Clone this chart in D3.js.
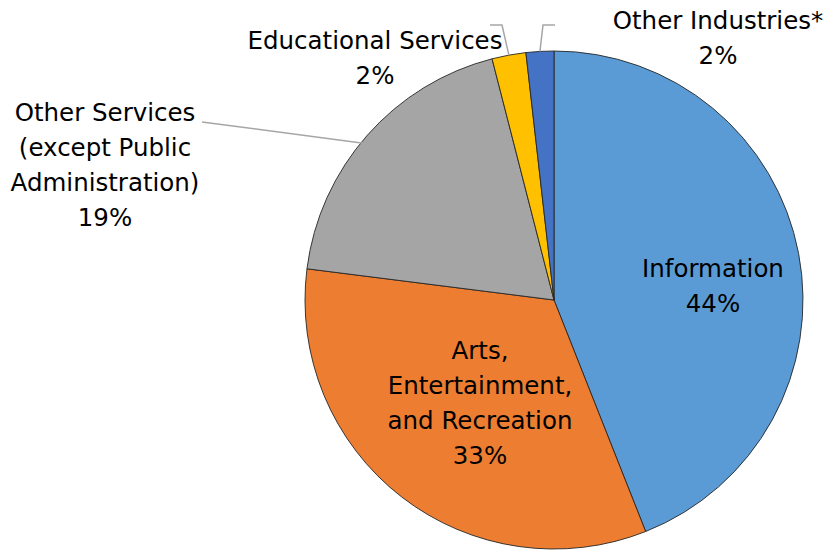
<!DOCTYPE html>
<html>
<head>
<meta charset="utf-8">
<script src="https://cdn.jsdelivr.net/npm/d3@7"></script>
<style>
	body { margin: 0; background: #fff; }
	text { font-family: "DejaVu Sans", sans-serif; font-size: 24.5px; fill: #000; }
</style>
</head>
<body>
<div id="chart"></div>
<script>

var categories = ["Information", "Arts, Entertainment, and Recreation", "Other Services (except Public Administration)", "Educational Services", "Other Industries*"];
var shares = [44, 33, 19, 2.2, 1.8];
var pctLabels = ["44%", "33%", "19%", "2%", "2%"];
var colors = ["#5B9BD5", "#ED7D31", "#A5A5A5", "#FFC000", "#4472C4"];

// label lines as they wrap in the original
var labelLines = [
	["Information", "44%"],
	["Arts,", "Entertainment,", "and Recreation", "33%"],
	["Other Services", "(except Public", "Administration)", "19%"],
	["Educational Services", "2%"],
	["Other Industries*", "2%"]
];

var width = 825,
	height = 550;

var cx = 554, cy = 300, radius = 249;
var lineGap = 35;

// where each label block sits (centre x, first-line y)
var labelPos = [
	{x: 713, y: 268},
	{x: 480, y: 350},
	{x: 105, y: 112},
	{x: 375, y: 40},
	{x: 718, y: 20}
];

var svg = d3.select("#chart").append("svg")
	.attr("width", width)
	.attr("height", height);

var g = svg.append("g")
	.attr("transform", "translate(" + cx + "," + cy + ")");

var pie = d3.pie().sort(null).value(function (d) { return d; });
var arc = d3.arc().innerRadius(0).outerRadius(radius);

var arcs = pie(shares);

g.selectAll("path.slice")
	.data(arcs)
	.enter().append("path")
	.attr("class", "slice")
	.attr("d", arc)
	.attr("fill", function (d, i) { return colors[i]; })
	.attr("stroke", "#262626")
	.attr("stroke-width", 0.9);

// leader lines for the labels outside the pie
function edge(d, r) {
	var a = (d.startAngle + d.endAngle) / 2;
	return [cx + r * Math.sin(a), cy - r * Math.cos(a)];
}

var leaders = [
	null,
	null,
	[[202, 122], edge(arcs[2], radius * 0.94)],
	[[490, 25], [502, 25], edge(arcs[3], radius)],
	[[555, 25], [543, 25], edge(arcs[4], radius)]
];

svg.selectAll("path.leader")
	.data(leaders.filter(function (d) { return d; }))
	.enter().append("path")
	.attr("class", "leader")
	.attr("d", d3.line())
	.attr("fill", "none")
	.attr("stroke", "#A6A6A6")
	.attr("stroke-width", 1.5);

var labels = svg.selectAll("text.label")
	.data(labelLines)
	.enter().append("text")
	.attr("class", "label")
	.attr("text-anchor", "middle")
	.attr("dominant-baseline", "central");

labels.each(function (lines, i) {
	var t = d3.select(this);
	lines.forEach(function (line, j) {
		t.append("tspan")
			.attr("x", labelPos[i].x)
			.attr("y", labelPos[i].y + j * lineGap)
			.text(line);
	});
});

</script>
</body>
</html>
